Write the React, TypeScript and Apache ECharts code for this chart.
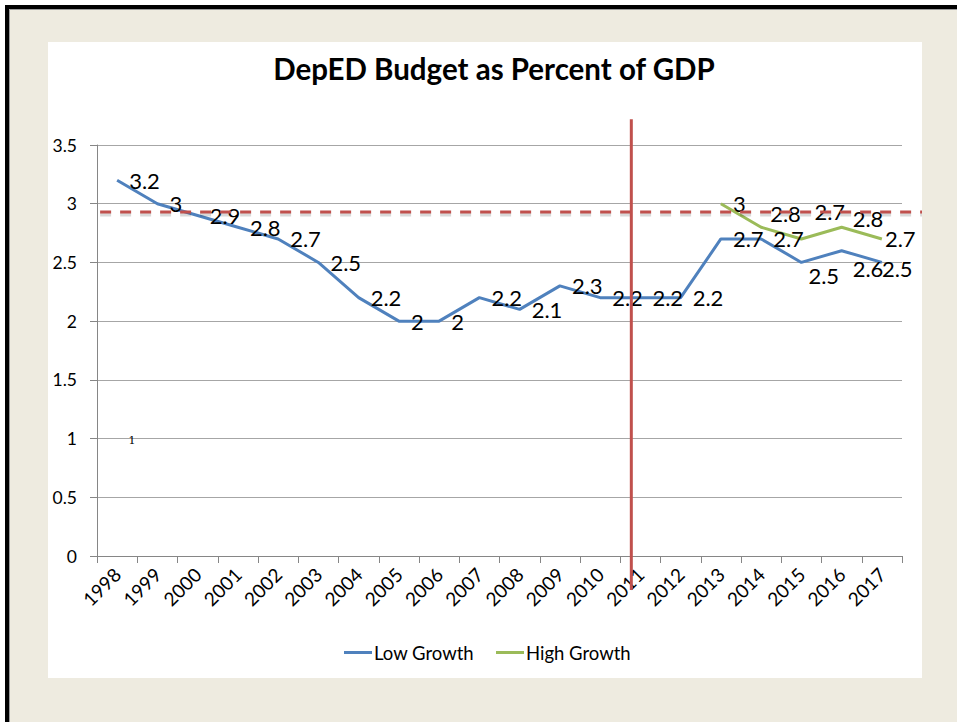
import React, { useEffect, useRef } from "react";
import * as echarts from "echarts";

// ---- data ----
const years = [
  "1998", "1999", "2000", "2001", "2002", "2003", "2004", "2005", "2006", "2007",
  "2008", "2009", "2010", "2011", "2012", "2013", "2014", "2015", "2016", "2017",
];
const lowGrowth = [3.2, 3, 2.9, 2.8, 2.7, 2.5, 2.2, 2, 2, 2.2, 2.1, 2.3, 2.2, 2.2, 2.2, 2.7, 2.7, 2.5, 2.6, 2.5];
const highGrowth: (number | string)[] = [
  "-", "-", "-", "-", "-", "-", "-", "-", "-", "-",
  "-", "-", "-", "-", "-", 3, 2.8, 2.7, 2.8, 2.7,
];
const seriesNames = ["Low Growth", "High Growth"];
const yMin = 0;
const yMax = 3.5;
const yInterval = 0.5;
const thresholdValue = 2.93; // dashed reference line
const markerFromYear = "2010";
const markerToYear = "2011";

// ---- styling / label nudges (pixels, not data) ----
const lowLabelNudge: Record<number, [number, number]> = { 17: [-5, 13], 18: [-1, 18], 19: [-12, 6] };
const highLabelNudge: Record<number, [number, number]> = { 16: [-3, -14], 17: [1, -27], 18: [-1, -9], 19: [-9, 0] };
const markerFraction = 0.775;
const markerTopValue = 3.72;
const markerBottomValue = -0.29;

const BLUE = "#4F81BD";
const GREEN = "#9BBB59";
const RED = "#C0504D";
const FONT = "Lato, 'Open Sans', sans-serif";

export default function App() {
  const ref = useRef<HTMLDivElement>(null);
  useEffect(() => {
    document.body.style.margin = "0";
    const chart = echarts.init(ref.current!, null, { renderer: "svg" });
    const labelBase = {
      show: true,
      position: "right",
      distance: 12,
      color: "#000",
      fontFamily: FONT,
      fontSize: 22,
    };
    const mk = (vals: (number | string)[], nudges: Record<number, [number, number]>) =>
      vals.map((v, i) => (nudges[i] ? { value: v, label: { offset: nudges[i] } } : { value: v }));

    chart.setOption({
      animation: false,
      backgroundColor: "#ffffff",
      title: {
        text: "DepED Budget as Percent of GDP",
        left: 489,
        top: 48,
        textAlign: "center",
        textStyle: { fontFamily: FONT, fontWeight: "bold", fontSize: 29.5, color: "#000" },
      },
      legend: {
        left: 339,
        top: 638,
        icon: "rect",
        itemWidth: 28,
        itemHeight: 3,
        itemGap: 22,
        textStyle: { fontFamily: FONT, fontSize: 18.5, color: "#000", padding: [0, 0, 0, -3] },
        data: seriesNames,
      },
      grid: { left: 97, right: 55, top: 145, bottom: 166, containLabel: false },
      xAxis: {
        type: "category",
        data: years,
        boundaryGap: true,
        axisLine: { lineStyle: { color: "#868686", width: 1 } },
        axisTick: { show: true, length: 7, lineStyle: { color: "#868686" } },
        axisLabel: { rotate: 45, margin: 15, color: "#000", fontFamily: FONT, fontSize: 19, interval: 0 },
        splitLine: { show: false },
      },
      yAxis: {
        type: "value",
        min: yMin,
        max: yMax,
        interval: yInterval,
        axisLine: { show: true, lineStyle: { color: "#868686", width: 1 } },
        axisTick: { show: true, length: 7, lineStyle: { color: "#868686" } },
        axisLabel: { margin: 20, color: "#000", fontFamily: FONT, fontSize: 17.5 },
        splitLine: { show: true, lineStyle: { color: "#A6A6A6", width: 1 } },
      },
      series: [
        {
          name: seriesNames[0],
          type: "line",
          data: mk(lowGrowth, lowLabelNudge),
          color: BLUE,
          lineStyle: { color: BLUE, width: 3 },
          symbol: "circle",
          symbolSize: 0.01,
          showSymbol: true,
          label: labelBase,
          emphasis: { disabled: true },
          z: 3,
        },
        {
          name: seriesNames[1],
          type: "line",
          data: mk(highGrowth, highLabelNudge),
          color: GREEN,
          lineStyle: { color: GREEN, width: 3 },
          symbol: "circle",
          symbolSize: 0.01,
          showSymbol: true,
          label: labelBase,
          emphasis: { disabled: true },
          z: 3,
        },
      ],
    });

    const yThr = chart.convertToPixel({ yAxisIndex: 0 }, thresholdValue) as number;
    const xA = chart.convertToPixel({ xAxisIndex: 0 }, markerFromYear) as number;
    const xB = chart.convertToPixel({ xAxisIndex: 0 }, markerToYear) as number;
    const xMarker = xA + (xB - xA) * markerFraction;
    const yTop = chart.convertToPixel({ yAxisIndex: 0 }, markerTopValue) as number;
    const yBot = chart.convertToPixel({ yAxisIndex: 0 }, markerBottomValue) as number;
    const xAxisStart = chart.convertToPixel({ xAxisIndex: 0 }, years[0]) as number;

    chart.setOption({
      graphic: [
        { type: "rect", id: "page", z: -30, shape: { x: 0, y: 0, width: 957, height: 722 }, style: { fill: "#ffffff" } },
        {
          type: "rect",
          id: "frame",
          z: -29,
          shape: { x: 7, y: 7, width: 1000, height: 1000 },
          style: { fill: "#EEEBE0", stroke: "#000", lineWidth: 4 },
        },
        {
          type: "line",
          id: "frameInner",
          z: -28,
          shape: { x1: 9.5, y1: 9.5, x2: 1000, y2: 9.5 },
          style: { stroke: "#9a9a9a", lineWidth: 1 },
        },
        {
          type: "line",
          id: "frameInnerL",
          z: -28,
          shape: { x1: 9.5, y1: 9.5, x2: 9.5, y2: 1000 },
          style: { stroke: "#9a9a9a", lineWidth: 1 },
        },
        {
          type: "rect",
          id: "panel",
          z: -27,
          shape: { x: 48, y: 42, width: 874, height: 636 },
          style: { fill: "#ffffff" },
        },
        {
          type: "line",
          id: "thrShadow",
          z: 9,
          shape: { x1: xAxisStart - 17, y1: yThr + 2.5, x2: 922, y2: yThr + 2.5 },
          style: { stroke: "rgba(0,0,0,0.15)", lineWidth: 4, lineDash: [11, 9] },
        },
        {
          type: "line",
          id: "thr",
          z: 10,
          shape: { x1: xAxisStart - 17, y1: yThr, x2: 922, y2: yThr },
          style: { stroke: RED, lineWidth: 3, lineDash: [11, 9] },
        },
        {
          type: "line",
          id: "marker",
          z: 10,
          shape: { x1: xMarker, y1: yTop, x2: xMarker, y2: yBot },
          style: { stroke: RED, lineWidth: 3 },
        },
        {
          type: "text",
          id: "tiny1",
          z: 10,
          x: 132,
          y: 440,
          style: { text: "1", font: "11px 'DejaVu Serif', serif", fill: "#000", align: "center", verticalAlign: "middle" },
        },
      ],
    });

    return () => chart.dispose();
  }, []);
  return <div ref={ref} style={{ width: 957, height: 722 }} />;
}
